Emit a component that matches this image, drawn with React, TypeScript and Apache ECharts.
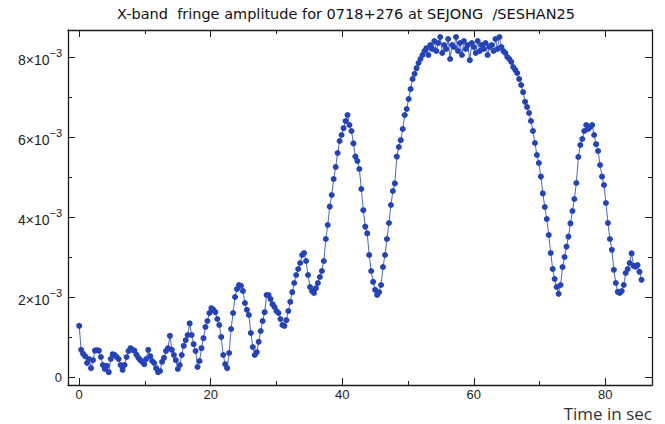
import React, { useEffect, useRef } from "react";
import * as echarts from "echarts";

const TITLE = "X-band  fringe amplitude for 0718+276 at SEJONG  /SESHAN25";
const X_AXIS_NAME = "Time in sec";
const TIME_STEP_SEC = 0.3;
// fringe amplitude in units of 1e-3, one value every TIME_STEP_SEC seconds starting at t = 0
const AMPLITUDE_E3 = [
  1.28, 0.68, 0.58, 0.52, 0.35, 0.45, 0.22, 0.42, 0.66, 0.67,
  0.66, 0.5, 0.3, 0.2, 0.28, 0.12, 0.45, 0.57, 0.55, 0.5,
  0.45, 0.3, 0.18, 0.3, 0.5, 0.65, 0.72, 0.68, 0.66, 0.56,
  0.48, 0.42, 0.38, 0.32, 0.45, 0.68, 0.52, 0.4, 0.35, 0.22,
  0.12, 0.15, 0.38, 0.48, 0.65, 0.72, 1.03, 0.68, 0.55, 0.42,
  0.2, 0.3, 0.55, 0.78, 0.92, 1.05, 1.34, 1.05, 0.82, 0.65,
  0.25,
  0.4, 0.72, 0.97, 1.25, 1.4, 1.6, 1.72, 1.68, 1.62,
  1.45, 1.3, 1.0, 0.55, 0.32, 0.22, 0.6, 1.2, 1.6, 2.0,
  2.2, 2.3, 2.28, 2.15, 1.85, 1.68, 1.55, 1.1, 0.75, 0.55,
  0.62, 0.88, 1.15, 1.4, 1.62, 2.05, 2.05, 1.95, 1.82, 1.75,
  1.65, 1.6, 1.45, 1.3, 1.28, 1.42, 1.65, 1.88, 2.12, 2.35,
  2.55, 2.7, 2.85, 3.05, 3.1, 2.9, 2.55, 2.25, 2.15, 2.1,
  2.22, 2.35, 2.5, 2.65, 2.9, 3.45, 3.8, 4.26, 4.55, 4.95,
  5.25, 5.6, 5.9, 6.05, 6.22, 6.4, 6.55, 6.3, 6.15, 5.84,
  5.51, 5.4, 5.2, 4.7, 4.17, 3.76, 3.59, 3.05, 2.65, 2.38,
  2.18, 2.05, 2.12, 2.3, 2.75, 3.05, 3.45, 3.85, 4.3, 4.65,
  4.84, 5.51, 5.75, 5.92, 6.2, 6.55, 6.7, 6.95, 7.2, 7.45,
  7.58, 7.72, 7.85, 7.95, 8.05, 8.15, 8.22, 8.05, 8.3, 8.2,
  8.4, 8.15, 8.35, 8.5, 8.1, 8.3, 8.2, 8.45, 7.95, 8.3,
  8.25, 8.5, 8.15, 8.35, 8.05, 8.4, 8.2, 8.3, 7.92, 8.35,
  8.25, 8.1, 8.4, 8.15, 8.3, 8.2, 8.35, 8.05, 8.25, 8.3,
  8.15, 8.45, 8.2, 8.5, 8.25, 8.15, 8.1, 8.0, 7.95, 7.88,
  7.75, 7.68, 7.6, 7.45, 7.3, 7.12, 6.88, 6.75, 6.6, 6.4,
  6.15, 5.85, 5.55, 5.35, 5.01, 4.59, 4.25, 3.95, 3.55, 3.1,
  2.7, 2.45, 2.25, 2.08, 2.3, 2.75, 3.0, 3.26, 3.51, 3.84,
  4.15, 4.45, 4.85, 5.5, 5.8, 5.95, 6.15, 6.3, 6.2, 6.25,
  6.3, 6.05, 5.82, 5.65, 5.3, 5.01, 4.8, 4.35, 3.85, 3.45,
  3.18, 2.68, 2.35, 2.13, 2.1, 2.15, 2.3, 2.6, 2.7, 2.85,
  3.09, 2.78, 2.76, 2.8, 2.63, 2.43,
];
const X_MAJOR_TICKS = [0, 20, 40, 60, 80];
const X_MINOR_TICKS = [10, 30, 50, 70];
const Y_MAJOR_TICKS = [0, 2, 4, 6, 8]; // units of 1e-3
const Y_MINOR_TICKS = [1, 3, 5, 7];
const X_MIN = -1.7;
const X_MAX = 87.1;
const Y_MIN = -0.2;
const Y_MAX = 8.675;

const AXIS_COLOR = "#1a1a1a";
const FONT = "'Liberation Sans', Arial, sans-serif";

export default function App() {
  const ref = useRef<HTMLDivElement>(null);
  useEffect(() => {
    if (!ref.current) return;
    const chart = echarts.init(ref.current, undefined, { renderer: "svg" });
    const data = AMPLITUDE_E3.map((v, i) => [+(i * TIME_STEP_SEC).toFixed(2), v]);

    const lineStyle = { color: AXIS_COLOR, width: 1.3 };
    const mkX = (pos: "bottom" | "top", ticks: number[], len: number, labels: boolean, line: boolean) => ({
      type: "value",
      position: pos,
      min: X_MIN,
      max: X_MAX,
      axisLine: { show: line, onZero: false, lineStyle },
      axisTick: { show: true, inside: true, length: len, customValues: ticks, lineStyle: { color: AXIS_COLOR, width: 1 } },
      axisLabel: labels
        ? { show: true, customValues: ticks, margin: 3, fontSize: 13, color: "#222", fontFamily: FONT }
        : { show: false },
      splitLine: { show: false },
    });
    const yFmt = (v: number) => {
      const r = Math.round(v);
      if (r === 0) return "0";
      return `{m|${r}×10}{s|−3}`;
    };
    const mkY = (pos: "left" | "right", ticks: number[], len: number, labels: boolean, line: boolean) => ({
      type: "value",
      position: pos,
      min: Y_MIN,
      max: Y_MAX,
      axisLine: { show: line, onZero: false, lineStyle },
      axisTick: { show: true, inside: true, length: len, customValues: ticks, lineStyle: { color: AXIS_COLOR, width: 1 } },
      axisLabel: labels
        ? {
            show: true,
            customValues: ticks,
            margin: 6,
            fontSize: 13,
            color: "#222",
            fontFamily: FONT,
            formatter: yFmt,
            rich: {
              m: { fontSize: 14, lineHeight: 20, verticalAlign: "bottom", color: "#222", fontFamily: FONT },
              s: { fontSize: 11, lineHeight: 8, verticalAlign: "top", color: "#222", fontFamily: FONT },
            },
          }
        : { show: false },
      splitLine: { show: false },
    });

    chart.setOption({
      animation: false,
      backgroundColor: "#ffffff",
      grid: { left: 68, right: 13, top: 30, bottom: 39, containLabel: false },
      xAxis: [
        mkX("bottom", X_MAJOR_TICKS, 7, true, true),
        mkX("bottom", X_MINOR_TICKS, 4, false, false),
        mkX("top", X_MAJOR_TICKS, 7, false, true),
        mkX("top", X_MINOR_TICKS, 4, false, false),
      ],
      yAxis: [
        mkY("left", Y_MAJOR_TICKS, 7, true, true),
        mkY("left", Y_MINOR_TICKS, 4, false, false),
        mkY("right", Y_MAJOR_TICKS, 7, false, true),
        mkY("right", Y_MINOR_TICKS, 4, false, false),
      ],
      graphic: [
        {
          type: "text",
          x: 346,
          y: 14,
          style: {
            text: TITLE,
            align: "center",
            verticalAlign: "middle",
            fontSize: 14.5,
            fontFamily: "'DejaVu Sans', sans-serif",
            fill: "#111",
          },
        },
        {
          type: "text",
          x: 652,
          y: 413,
          style: {
            text: X_AXIS_NAME,
            align: "right",
            verticalAlign: "middle",
            fontSize: 17,
            fontFamily: "'Open Sans', 'Noto Sans', sans-serif",
            fill: "#333",
          },
        },
      ],
      series: [
        {
          type: "line",
          xAxisIndex: 0,
          yAxisIndex: 0,
          data,
          symbol: "circle",
          symbolSize: 6,
          showSymbol: true,
          showAllSymbol: true,
          lineStyle: { color: "#4a67cc", width: 1 },
          itemStyle: { color: "#2443b8" },
          emphasis: { disabled: true },
        },
      ],
    });
    return () => chart.dispose();
  }, []);
  return <div ref={ref} style={{ position: "fixed", left: 0, top: 0, width: 665, height: 424 }} />;
}
